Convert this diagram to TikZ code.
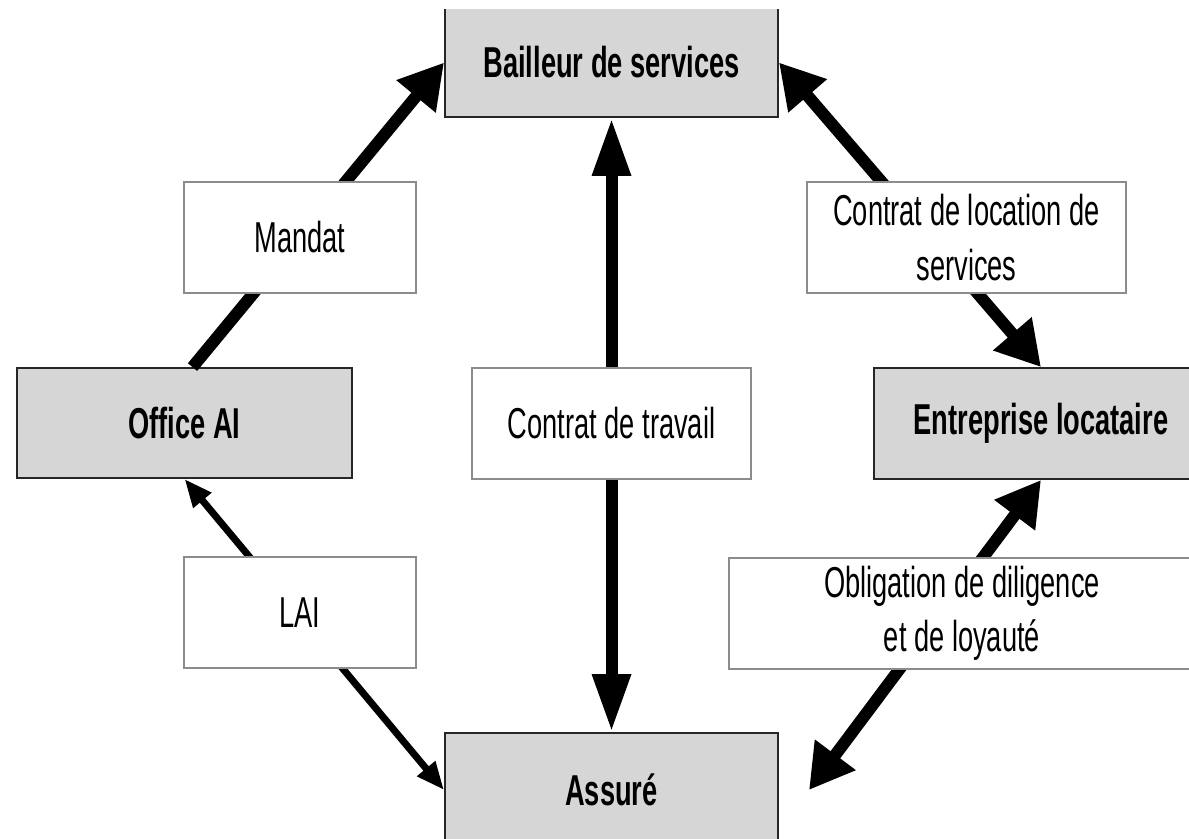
\documentclass[tikz,border=0pt]{standalone}
\usepackage{fontspec}
\setmainfont{Liberation Sans}[FakeStretch=0.63]
\usetikzlibrary{arrows.meta}

\tikzset{
    bigtip/.tip={Triangle[length=0.44cm, width=0.48cm]},
    longtip/.tip={Triangle[length=0.58cm, width=0.36cm]},
    smalltip/.tip={Triangle[length=0.28cm, width=0.22cm]},
}

\begin{document}
\begin{tikzpicture}[x=0.01cm, y=-0.01cm,
        actor/.style={draw=black!85, line width=0.5pt, fill=black!16, inner sep=0pt, align=center,
            font=\fontsize{12.3}{15.5}\selectfont\bfseries},
        linkbox/.style={draw=black!45, line width=0.5pt, fill=white, inner sep=0pt, align=center,
            minimum height=1.11cm, font=\fontsize{12.3}{15.5}\selectfont},
        bigline/.style={line width=0.12cm},
        smallline/.style={line width=0.07cm}]
        \useasboundingbox (0,0) rectangle (1189,838);
        \clip (0,9) rectangle (1189,838);

        % the four parties
        \node[actor, minimum width=3.33cm, minimum height=1.09cm] (bailleur) at (611.5,62.5) {Bailleur de services};
        \node[actor, minimum width=3.35cm, minimum height=1.10cm] (office) at (184.5,423) {Office AI};
        \node[actor, minimum width=3.34cm, minimum height=1.11cm] (entreprise) at (1041,423.5) {Entreprise locataire};
        \node[actor, minimum width=3.33cm, minimum height=1.14cm] (assure) at (611.5,790) {Assuré};

        % relations
        \draw[bigline, -{bigtip}] ([xshift=0.08cm]office.north) -- (bailleur.west);
        \draw[bigline, {bigtip}-{bigtip}] (bailleur.east) -- (entreprise.north);
        \draw[bigline, {longtip}-{longtip}] (bailleur.south) -- (assure.north);
        \draw[bigline, {bigtip}-{bigtip}] (entreprise.south) -- ([xshift=0.3cm]assure.east);
        \draw[smallline, {smalltip}-{smalltip}] (assure.west) -- (office.south);

        % labels on the relations
        \node[linkbox, minimum width=2.32cm] (mandat) at (300,237.5) {Mandat};
        \node[linkbox, minimum width=2.32cm] (lai) at (300,612.5) {LAI};
        \node[linkbox, minimum width=2.79cm] (travail) at (611.5,423.5) {Contrat de travail};
        \node[linkbox, minimum width=3.19cm] (location) at (966.5,237.5) {Contrat de location de\\services};
        \node[linkbox, minimum width=4.66cm] (loyaute) at (962,613.5) {Obligation de diligence\\et de loyauté};
    \end{tikzpicture}
\end{document}
